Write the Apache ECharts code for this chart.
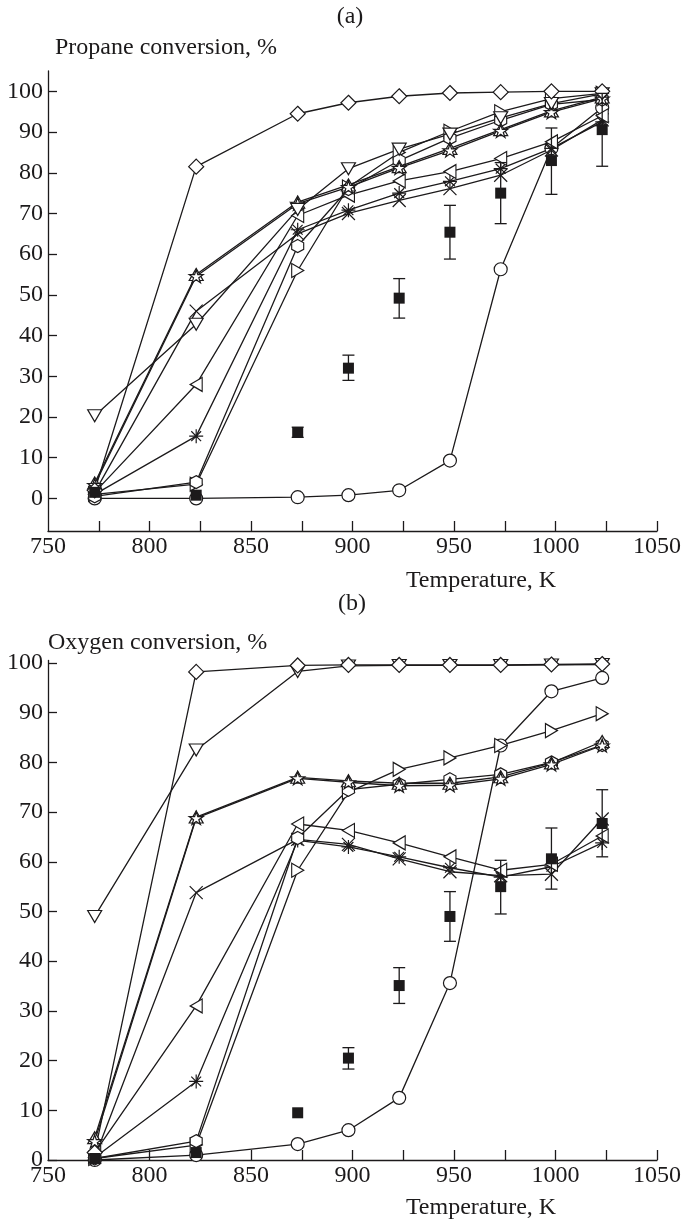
<!DOCTYPE html>
<html>
<head>
<meta charset="utf-8">
<script src="https://cdn.jsdelivr.net/npm/echarts@6/dist/echarts.min.js"></script>
<style>
html,body{margin:0;padding:0;background:#fff;}
#chart{width:685px;height:1226px;}
</style>
</head>
<body>
<div id="chart"></div>
<script>
// ---------- data ----------
const temps = [773, 823, 873, 898, 923, 948, 973, 998, 1023];
const xTickValues = [775, 800, 825, 850, 875, 900, 925, 950, 975, 1000, 1025, 1050];
const xLabelValues = [750, 800, 850, 900, 950, 1000, 1050];
const yTickValues = [0, 10, 20, 30, 40, 50, 60, 70, 80, 90, 100];

// (a) Propane conversion, %
const propDiamond   = [2.0, 81.5, 94.5, 97.2, 98.8, 99.6, 99.8, 100, 100];
const propTriDown   = [20.3, 42.8, 71.0, 81.0, 85.8, 89.5, 93.5, 97.0, 99.4];
const propTriUp     = [3.8, 55.0, 72.8, 77.0, 81.5, 86.0, 90.6, 95.2, 98.6];
const propStar      = [3.3, 54.6, 72.4, 76.5, 81.2, 85.5, 90.3, 94.9, 98.2];
const propCross     = [1.5, 46.0, 65.0, 70.0, 73.2, 76.1, 79.4, 85.6, 93.0];
const propTriLeft   = [1.5, 28.0, 69.5, 74.5, 78.0, 80.3, 83.5, 87.6, 94.0];
const propAsterisk  = [1.0, 15.3, 66.0, 70.8, 75.0, 77.9, 81.0, 86.0, 92.5];
const propHexagon   = [0.5, 4.0, 62.0, 76.0, 83.0, 88.5, 92.9, 96.8, 98.0];
const propTriRight  = [1.0, 3.5, 56.0, 76.5, 85.0, 90.2, 95.0, 98.2, 99.5];
const propCircle    = [0.0, 0.0, 0.3, 0.8, 2.0, 9.3, 56.3, 86.0, 96.0];
const propSquare    = [1.5, 0.8, 16.2, 32.0, 49.2, 65.4, 75.0, 83.0, 90.6];
const propSquareLow = [null, null, 15.0, 29.0, 44.3, 58.8, 67.5, 74.7, 81.6];
const propSquareHigh= [null, null, 17.5, 35.2, 54.0, 72.0, 82.5, 91.0, 99.5];

// (b) Oxygen conversion, %
const oxyDiamond   = [1.5, 98.2, 99.5, 99.6, 99.6, 99.6, 99.6, 99.7, 99.8];
const oxyTriDown   = [49.0, 82.5, 98.3, 99.4, 99.5, 99.5, 99.5, 99.6, 99.7];
const oxyTriUp     = [4.5, 69.0, 77.0, 76.3, 75.8, 75.8, 77.1, 79.9, 84.2];
const oxyStar      = [3.8, 68.8, 76.8, 76.0, 75.3, 75.4, 76.7, 79.6, 83.4];
const oxyCross     = [0.5, 53.8, 64.5, 63.5, 60.6, 58.0, 57.2, 57.5, 68.6];
const oxyTriLeft   = [1.5, 31.0, 67.6, 66.3, 63.8, 61.0, 58.3, 59.5, 65.2];
const oxyAsterisk  = [0.5, 15.8, 64.3, 63.0, 61.0, 58.8, 56.9, 59.0, 63.8];
const oxyHexagon   = [0.3, 3.8, 64.8, 74.5, 75.6, 76.6, 77.6, 80.0, 83.5];
const oxyTriRight  = [0.3, 3.0, 58.3, 74.0, 78.6, 80.9, 83.4, 86.4, 89.8];
const oxyCircle    = [0.0, 1.0, 3.2, 6.0, 12.5, 35.6, 83.4, 94.3, 97.0];
const oxySquare    = [0.3, 1.5, 9.5, 20.5, 35.1, 49.0, 55.0, 60.6, 67.7];
const oxySquareLow = [null, null, null, 18.3, 31.5, 44.0, 49.5, 54.5, 61.0];
const oxySquareHigh= [null, null, null, 22.6, 38.7, 54.0, 60.3, 66.8, 74.5];

// ---------- styling ----------
const INK = '#1c1a1b';
const FONT = '"Liberation Serif", "DejaVu Serif", serif';
const SYM = {
  diamond:  {symbol: 'diamond', size: [15, 15]},
  triDown:  {symbol: 'path://M0,0 L100,0 L50,92 Z', size: [14, 12]},
  triUp:    {symbol: 'path://M50,0 L100,92 L0,92 Z', size: [14, 12]},
  star:     {symbol: 'path://M50,0 L61,35 L98,35 L68,57 L79,91 L50,70 L21,91 L32,57 L2,35 L39,35 Z', size: [14, 13]},
  cross:    {symbol: 'path://M0,0 L100,100 M100,0 L0,100', size: [13, 13]},
  triLeft:  {symbol: 'path://M92,0 L92,100 L0,50 Z', size: [12, 14]},
  asterisk: {symbol: 'path://M50,0 L50,100 M0,50 L100,50 M15,15 L85,85 M85,15 L15,85', size: [14, 14]},
  hexagon:  {symbol: 'path://M50,0 L93,25 L93,75 L50,100 L7,75 L7,25 Z', size: [12, 13]},
  triRight: {symbol: 'path://M0,0 L0,100 L92,50 Z', size: [12, 14]},
  circle:   {symbol: 'circle', size: [13, 13]},
  square:   {symbol: 'rect', size: [11, 11]}
};

function lineSeries(name, values, key, idx) {
  const s = SYM[key];
  return {
    type: 'line', name: name, xAxisIndex: idx, yAxisIndex: idx,
    data: temps.map((t, i) => [t, values[i]]),
    symbol: s.symbol, symbolSize: s.size, showAllSymbol: true,
    lineStyle: {color: INK, width: 1.3},
    itemStyle: {color: '#fff', borderColor: INK, borderWidth: 1.2},
    emphasis: {disabled: true}, silent: true, z: 2
  };
}
function squareSeries(name, values, idx) {
  return {
    type: 'scatter', name: name, xAxisIndex: idx, yAxisIndex: idx,
    data: temps.map((t, i) => [t, values[i]]),
    symbol: 'rect', symbolSize: SYM.square.size,
    itemStyle: {color: INK, borderColor: INK, borderWidth: 0, opacity: 1},
    emphasis: {disabled: true}, silent: true, z: 4
  };
}
function errorSeries(name, lows, highs, idx) {
  const data = [];
  temps.forEach((t, i) => { if (lows[i] != null) data.push([t, lows[i], highs[i]]); });
  return {
    type: 'custom', name: name, xAxisIndex: idx, yAxisIndex: idx,
    data: data, encode: {x: 0, y: [1, 2]}, silent: true, z: 3,
    renderItem: function (params, api) {
      const x = api.value(0);
      const p1 = api.coord([x, api.value(1)]);
      const p2 = api.coord([x, api.value(2)]);
      const w = 6;
      const st = {stroke: INK, lineWidth: 1.3};
      return {type: 'group', children: [
        {type: 'line', shape: {x1: p1[0], y1: p1[1], x2: p2[0], y2: p2[1]}, style: st},
        {type: 'line', shape: {x1: p1[0] - w, y1: p1[1], x2: p1[0] + w, y2: p1[1]}, style: st},
        {type: 'line', shape: {x1: p2[0] - w, y1: p2[1], x2: p2[0] + w, y2: p2[1]}, style: st}
      ]};
    }
  };
}

function xAxisDef(idx) {
  return {
    type: 'value', gridIndex: idx, min: 750, max: 1050,
    axisLine: {onZero: false, lineStyle: {color: INK, width: 1.3}},
    axisTick: {inside: true, length: 10, customValues: xTickValues, lineStyle: {color: INK, width: 1.3}},
    axisLabel: {customValues: xLabelValues, color: INK, fontFamily: FONT, fontSize: 24, margin: 4,
      formatter: function (v) { return String(v); }},
    splitLine: {show: false}
  };
}
function yAxisDef(idx, min, max) {
  return {
    type: 'value', gridIndex: idx, min: min, max: max,
    axisLine: {show: true, onZero: false, lineStyle: {color: INK, width: 1.3}},
    axisTick: {show: true, inside: true, length: 9, customValues: yTickValues, lineStyle: {color: INK, width: 1.3}},
    axisLabel: {customValues: yTickValues, color: INK, fontFamily: FONT, fontSize: 24, margin: 5,
      formatter: function (v) { return String(v); }},
    splitLine: {show: false}
  };
}

const series = [];
function addPanel(idx, d) {
  series.push(lineSeries('circle', d.circle, 'circle', idx));
  series.push(lineSeries('asterisk', d.asterisk, 'asterisk', idx));
  series.push(lineSeries('cross', d.cross, 'cross', idx));
  series.push(lineSeries('triLeft', d.triLeft, 'triLeft', idx));
  series.push(lineSeries('triRight', d.triRight, 'triRight', idx));
  series.push(lineSeries('hexagon', d.hexagon, 'hexagon', idx));
  series.push(lineSeries('triUp', d.triUp, 'triUp', idx));
  series.push(lineSeries('star', d.star, 'star', idx));
  series.push(lineSeries('triDown', d.triDown, 'triDown', idx));
  series.push(lineSeries('diamond', d.diamond, 'diamond', idx));
  series.push(errorSeries('err', d.low, d.high, idx));
  series.push(squareSeries('square', d.square, idx));
}
addPanel(0, {circle: propCircle, asterisk: propAsterisk, cross: propCross, triLeft: propTriLeft,
  triRight: propTriRight, hexagon: propHexagon, triUp: propTriUp, star: propStar, triDown: propTriDown,
  diamond: propDiamond, square: propSquare, low: propSquareLow, high: propSquareHigh});
addPanel(1, {circle: oxyCircle, asterisk: oxyAsterisk, cross: oxyCross, triLeft: oxyTriLeft,
  triRight: oxyTriRight, hexagon: oxyHexagon, triUp: oxyTriUp, star: oxyStar, triDown: oxyTriDown,
  diamond: oxyDiamond, square: oxySquare, low: oxySquareLow, high: oxySquareHigh});

function txt(text, x, y, align) {
  return {type: 'text', silent: true, style: {text: text, x: x, y: y, fill: INK,
    font: '24px ' + FONT, textAlign: align, textVerticalAlign: 'middle'}};
}

const chart = echarts.init(document.getElementById('chart'), null, {renderer: 'canvas'});
chart.setOption({
  animation: false,
  backgroundColor: '#fff',
  grid: [
    {left: 48, top: 71, width: 609, height: 460, containLabel: false},
    {left: 48, top: 660.5, width: 609, height: 499.5, containLabel: false}
  ],
  xAxis: [xAxisDef(0), xAxisDef(1)],
  yAxis: [yAxisDef(0, -8, 105), yAxisDef(1, 0, 100.5)],
  series: series,
  graphic: [
    txt('(a)', 350, 17, 'center'),
    txt('Propane conversion, %', 55, 48, 'left'),
    txt('Temperature, K', 481, 581, 'center'),
    txt('(b)', 352, 604, 'center'),
    txt('Oxygen conversion, %', 48, 643, 'left'),
    txt('Temperature, K', 481, 1208, 'center')
  ]
});
</script>
</body>
</html>
